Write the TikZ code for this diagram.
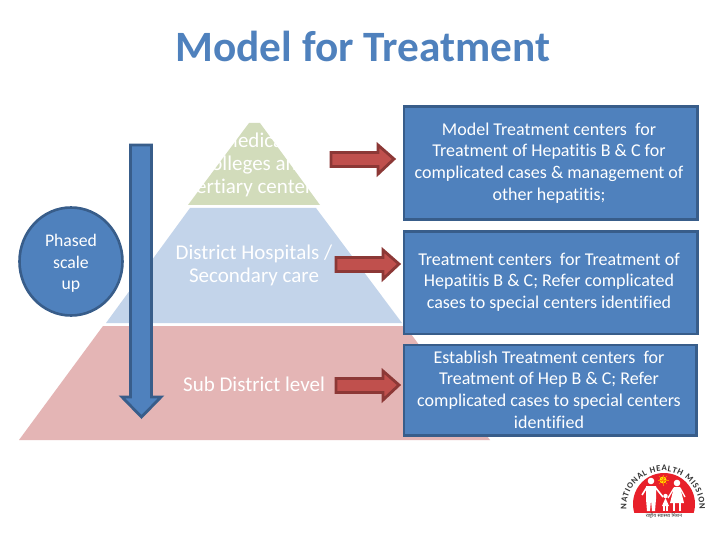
\documentclass[tikz,border=0pt]{standalone}
\usepackage{fontspec}
\setmainfont[Ligatures=NoCommon]{Carlito}
\newfontfamily\hindifont[Script=Devanagari]{Noto Sans}
\usetikzlibrary{decorations.text,shapes.geometric}
\definecolor{accent}{HTML}{4F81BD}
\definecolor{accentdk}{HTML}{385D8A}
\definecolor{redfill}{HTML}{C0504D}
\definecolor{reddk}{HTML}{8C3836}
\definecolor{greentier}{HTML}{D2DCBB}
\definecolor{bluetier}{HTML}{C3D4EA}
\definecolor{redtier}{HTML}{E4B5B5}
\definecolor{logored}{HTML}{E8202A}
\tikzset{
  x=1pt,y=-1pt,
  tierlabel/.style={text=white,font=\fontsize{21}{22.6}\selectfont,align=center,inner sep=0pt},
  infobox/.style={fill=accent,draw=accentdk,line width=2.6pt,inner sep=0pt,anchor=north west},
  boxtext/.style={text=white,align=center,font=\fontsize{18}{21.6}\selectfont,inner sep=0pt},
  redarrow/.style={fill=redfill,draw=reddk,line width=2.8pt,miter limit=4},
  bluearrow/.style={fill=accent,draw=accentdk,line width=2.8pt},
}
\begin{document}
\begin{tikzpicture}
\useasboundingbox (0,0) rectangle (720,540);
\fill[white] (0,0) rectangle (720,540);
% title
\node[text=accent,font=\fontsize{43.3}{46}\selectfont\bfseries,inner sep=0pt] (title) at (363,46.5) {Model for Treatment};
% pyramid
\fill[redtier] (103,326) -- (405,326) -- (490,440) -- (19,440) -- cycle;
\fill[bluetier] (190,208) -- (316,208) -- (402,323) -- (106,323) -- cycle;
\fill[greentier] (249,123) -- (260,123) -- (320,205) -- (188,205) -- cycle;
\node[tierlabel] (top) at (254,165) {Medical\\Colleges and\\Tertiary centers};
\node[tierlabel] (mid) at (254,265.5) {District Hospitals /\\Secondary care};
\node[tierlabel] (low) at (254,384) {Sub District level};
% phased scale up
\draw[bluearrow] (130.5,145) -- (151.5,145) -- (151.5,397) -- (161,397) -- (141.5,417) -- (122,397) -- (130.5,397) -- cycle;
\node[ellipse,fill=accent,draw=accentdk,line width=2.6pt,minimum width=103pt,minimum height=108pt,inner sep=0pt] (phase) at (71,261.5) {};
\node[boxtext,font=\fontsize{17.7}{21.6}\selectfont] (phasetext) at (71,263.5) {Phased\\scale\\up};
% boxes
\node[infobox,minimum width=293.5pt,minimum height=113pt] (b1) at (402.5,105.5) {};
\node[infobox,minimum width=293.5pt,minimum height=102pt] (b2) at (402.5,230.5) {};
\node[infobox,minimum width=292.5pt,minimum height=90.5pt] (b3) at (402.5,343.5) {};
\node[boxtext] (t1) at (549,163) {Model Treatment centers~ for\\Treatment of Hepatitis B \& C for\\complicated cases \& management of\\other hepatitis;};
\node[boxtext] (t2) at (549,282) {Treatment centers~ for Treatment of\\Hepatitis B \& C; Refer complicated\\cases to special centers identified};
\node[boxtext] (t3) at (549,389.5) {Establish Treatment centers~ for\\Treatment of Hep B \& C; Refer\\complicated cases to special centers\\identified};
% red arrows
\draw[redarrow] (331,152.5) -- (378,152.5) -- (378,145) -- (394,159) -- (378,174) -- (378,166.5) -- (331,166.5) -- cycle;
\draw[redarrow] (336,257.5) -- (383,257.5) -- (383,250) -- (399,264) -- (383,279) -- (383,271.5) -- (336,271.5) -- cycle;
\draw[redarrow] (336,378.5) -- (383,378.5) -- (383,371) -- (399,385) -- (383,400) -- (383,392.5) -- (336,392.5) -- cycle;
% logo
\begin{scope}
\clip (620,470) rectangle (710,512);
\fill[logored] (664,504) circle (31);
\end{scope}
\fill[yellow!90!orange] (663,480) circle (3.5);
\foreach \a in {0,45,...,315}{\draw[orange,line width=.6pt] (663,480) -- ++(\a:5.5);}
% father
\fill[white] (651,481) circle (3.3);
\fill[white] (646,486) -- (656,486) -- (656,499) -- (655,511) -- (652,511) -- (651,500) -- (650,511) -- (647,511) -- (646,499) -- cycle;
\draw[white,line width=1.6pt] (647,487) -- (642,495) (655,487) -- (663,497);
% child
\fill[white] (665.5,496) circle (2.2);
\fill[white] (665.5,498) -- (669,506) -- (662,506) -- cycle;
\draw[white,line width=1.1pt] (664,506) -- (664,511) (667,506) -- (667,511);
% mother
\fill[white] (677,483) circle (3.3);
\fill[white] (674,487) -- (680,487) -- (684,503) -- (670,503) -- cycle;
\draw[white,line width=1.5pt] (674,503) -- (674,511) (680,503) -- (680,511);
\draw[white,line width=1.3pt] (674,488) -- (668,498) (680,488) -- (685,497);
% logo lettering
\path[decorate,decoration={text along path,text align={fit to path},
  text={|\fontsize{8.6}{9}\selectfont\color{black!80}\bfseries|NATIONAL HEALTH MISSION}}]
  (626.5,509.4) arc[start angle=183,end angle=-3,x radius=36.5,y radius=-36.5];
\node[font=\fontsize{5}{6}\selectfont\hindifont,text=black!80,inner sep=0pt] (hindi) at (664,516) {राष्ट्रीय स्वास्थ्य मिशन};
\end{tikzpicture}
\end{document}
